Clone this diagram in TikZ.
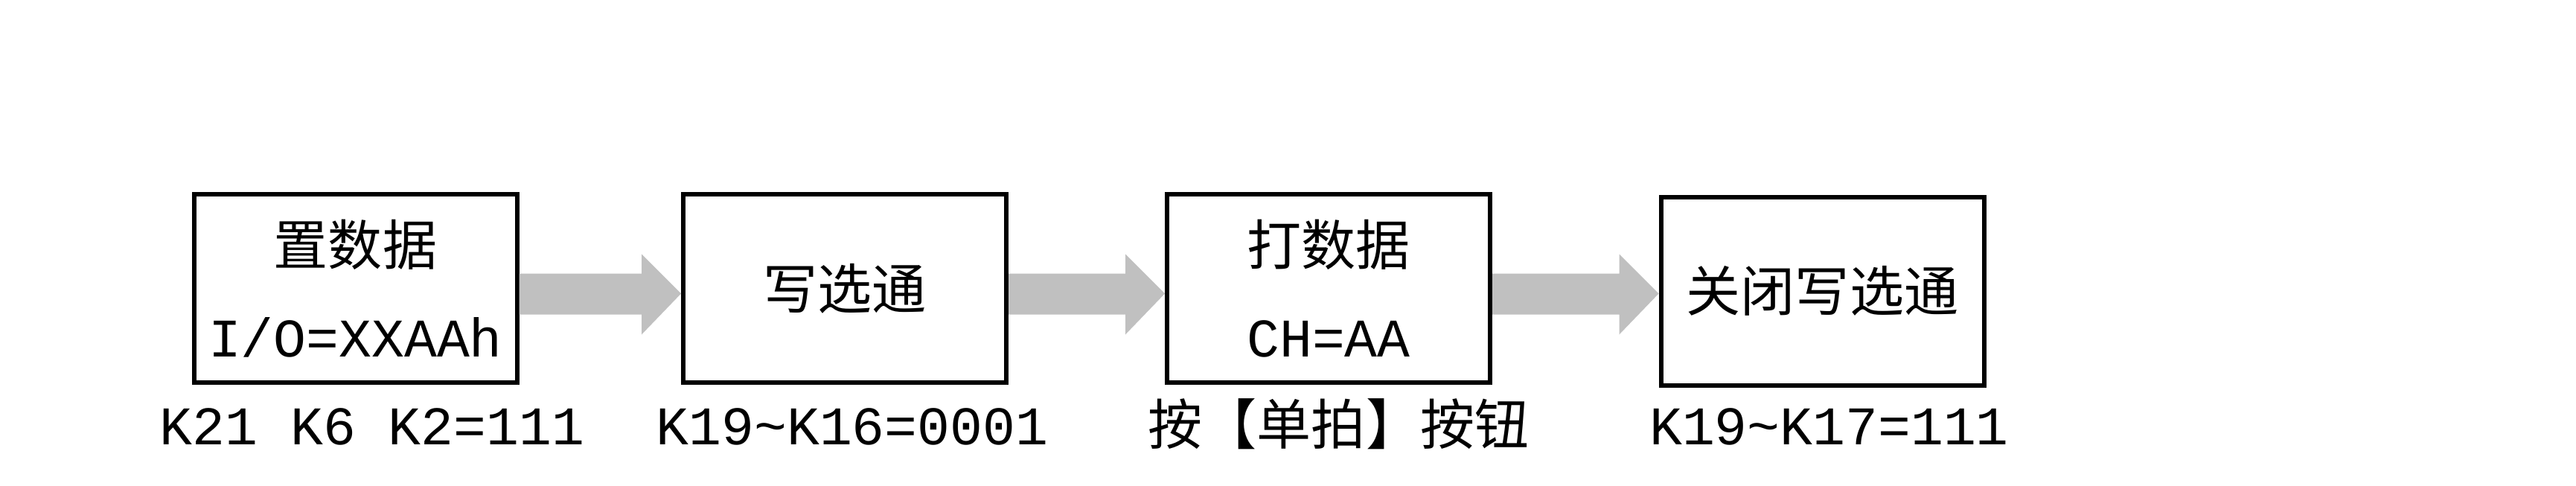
\documentclass[tikz,border=0pt]{standalone}
\usepackage{fontspec}
\newfontfamily\cjkfont{Noto Sans CJK SC}
\newfontfamily\codefont{Liberation Mono}
\usetikzlibrary{calc}
\definecolor{arrowgray}{RGB}{192,192,192}
\newcommand{\textsz}{\fontsize{20.8}{35.2}\selectfont}

\begin{document}
\begin{tikzpicture}[
    box/.style={draw,line width=0.06cm,minimum width=4.34cm,minimum height=2.53cm,
        align=center,inner sep=0pt,font=\textsz\cjkfont}
]
\useasboundingbox (0,0) rectangle (34.61,-6.52);

\node (b1) at (4.775,-3.875)[box]{置数据\\{\codefont I/O=XXAAh}};
\node (b2) at (11.35,-3.875)[box]{写选通};
\node (b3) at (17.85,-3.875)[box]{打数据\\{\codefont CH=AA}};
\node (b4) at (24.485,-3.91)[box]{关闭写选通};

\foreach \a/\b in {b1/b2,b2/b3,b3/b4}
{
    \fill[arrowgray] ($(\a.east)+(0,0.20)$) -- ($(\a.east -| \b.west)+(-0.53,0.20)$)
        -- ($(\a.east -| \b.west)+(-0.53,0.46)$) -- ($(\a.east -| \b.west)+(0,-0.07)$)
        -- ($(\a.east -| \b.west)+(-0.53,-0.62)$) -- ($(\a.east -| \b.west)+(-0.53,-0.35)$)
        -- ($(\a.east)+(0,-0.35)$) -- cycle;
}

\foreach \n/\x/\t in {l1/5.00/K21 K6 K2=111,l2/11.45/K19\textasciitilde K16=0001,
    l3/17.985/{\cjkfont 按【单拍】按钮},l4/24.575/K19\textasciitilde K17=111}
{
    \node (\n) at (\x,-5.97)[anchor=base,font=\textsz\codefont]{\t};
}
\end{tikzpicture}
\end{document}
